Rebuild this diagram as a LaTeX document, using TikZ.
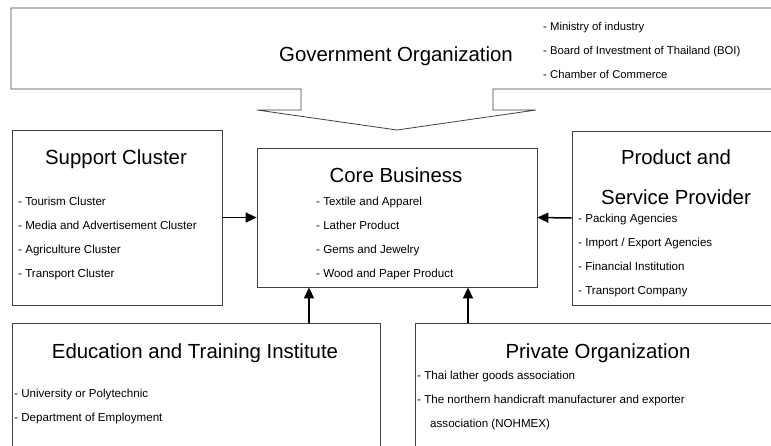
\documentclass[tikz,border=0pt]{standalone}
\usepackage{fontspec}
\setmainfont{Liberation Sans}
\usetikzlibrary{arrows.meta}
\usetikzlibrary{calc}
\tikzstyle{box}=[rectangle,draw=black!75,line width=0.8pt,inner sep=0pt]
\tikzstyle{ttl}=[font=\fontsize{20.4}{24}\selectfont,anchor=base,inner sep=0pt]
\tikzstyle{itm}=[font=\fontsize{11.6}{14}\selectfont,anchor=base west,inner sep=0pt]
\tikzstyle{arr}=[line width=1.5pt,-{Triangle[length=11pt,width=10pt]}]

\begin{document}
\begin{tikzpicture}[x=1pt,y=-1pt]
\clip (0,0) rectangle (771,445);

%government box with its chevron
\draw[black!75,line width=0.8pt] (800,8) -- (11,8) -- (11,89) -- (301,89) -- (301,110) -- (257,110)
  -- (397,130) -- (536,110) -- (493,110) -- (493,89) -- (800,89);
\node[ttl] (gov) at (396,61) {Government Organization};
\foreach \t [count=\i from 0] in {Ministry of industry, Board of Investment of Thailand (BOI), Chamber of Commerce} {
  \node[itm,font=\fontsize{11.3}{14}\selectfont] (gov-\i) at (543,30+24*\i) {- \t};
}

%boxes
\node[box,minimum width=210,minimum height=175] (sup) at (117,217.5) {};
\node[box,minimum width=280,minimum height=139] (core) at (397,217.5) {};
\node[box,minimum width=218,minimum height=174] (prod) at (681,218) {};
\node[box,minimum width=368,minimum height=137] (edu) at (196,391.5) {};
\node[box,minimum width=375,minimum height=137] (priv) at (602.5,391.5) {};

%support cluster
\node[ttl] (sup-t) at (116,164) {Support Cluster};
\foreach \t [count=\i from 0] in {Tourism Cluster, Media and Advertisement Cluster, Agriculture Cluster, Transport Cluster} {
  \node[itm] (sup-\i) at (18,205+24*\i) {- \t};
}

%core business
\node[ttl] (core-t) at (396,182) {Core Business};
\foreach \t [count=\i from 0] in {Textile and Apparel, Lather Product, Gems and Jewelry, Wood and Paper Product} {
  \node[itm] (core-\i) at (316,205.5+24*\i) {- \t};
}

%product and service provider
\node[ttl] (prod-t) at (676,164) {Product and};
\node[ttl] (prod-s) at (676,204) {Service Provider};
\foreach \t [count=\i from 0] in {Packing Agencies, Import / Export Agencies, Financial Institution, Transport Company} {
  \node[itm] (prod-\i) at (578,222+24.3*\i) {- \t};
}

%education and training
\node[ttl] (edu-t) at (195,358) {Education and Training Institute};
\foreach \t [count=\i from 0] in {University or Polytechnic, Department of Employment} {
  \node[itm] (edu-\i) at (14,397+24*\i) {- \t};
}

%private organization
\node[ttl] (priv-t) at (598,358) {Private Organization};
\node[itm] (priv-0) at (417,379) {- Thai lather goods association};
\node[itm] (priv-1) at (417,403) {- The northern handicraft manufacturer and exporter};
\node[itm] (priv-2) at (430,427) {association (NOHMEX)};

%arrows into the core
\coordinate (ea) at (309,0);
\coordinate (pa) at (468,0);
\draw[arr] (sup.east) -- (core.west);
\draw[arr] (prod.west) -- (core.east);
\draw[arr] (edu.north -| ea) -- (core.south -| ea);
\draw[arr] (priv.north -| pa) -- (core.south -| pa);
\end{tikzpicture}
\end{document}
